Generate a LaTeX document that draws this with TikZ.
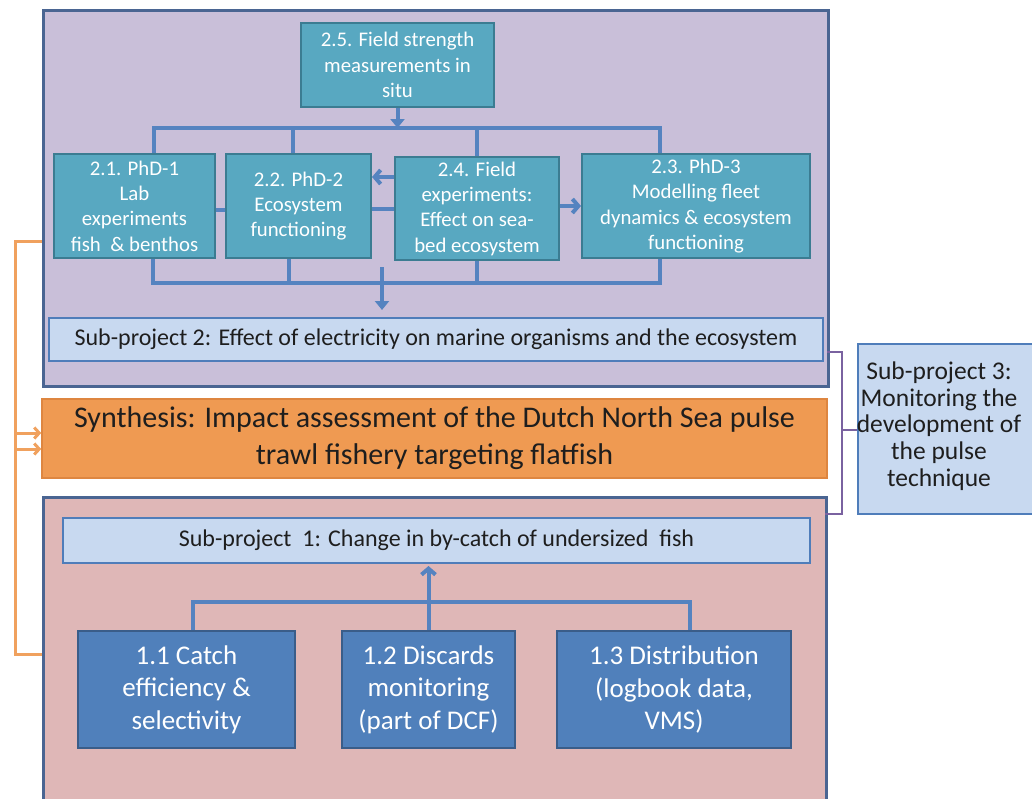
\documentclass[tikz,border=0pt]{standalone}
\usepackage{fontspec}
\setmainfont{Carlito}
\usetikzlibrary{arrows.meta}
\definecolor{purplefill}{HTML}{C9BFD9}
\definecolor{pinkfill}{HTML}{DFB7B7}
\definecolor{arealine}{HTML}{4A6592}
\definecolor{tealfill}{HTML}{58A8C1}
\definecolor{tealline}{HTML}{3B7C92}
\definecolor{bluefill}{HTML}{5080BB}
\definecolor{blueline}{HTML}{3A5D89}
\definecolor{lightfill}{HTML}{C8D9F0}
\definecolor{lightline}{HTML}{4F7DBA}
\definecolor{connblue}{HTML}{5583C0}
\definecolor{orangefill}{HTML}{EF9A52}
\definecolor{orangeline}{HTML}{DE8640}
\definecolor{orangeconn}{HTML}{F0A15E}
\definecolor{purpleconn}{HTML}{7A62A0}
\definecolor{textdark}{HTML}{1E1E1E}
\begin{document}
\begin{tikzpicture}[x=1pt,y=-1pt,
  areabox/.style={draw=arealine, line width=2.5pt, inner sep=0pt, anchor=north west},
  tealbox/.style={draw=tealline, line width=2pt, fill=tealfill, text=white, align=center, inner sep=0pt, font=\fontsize{20.8}{25.3}\selectfont},
  bluebox/.style={draw=blueline, line width=2pt, fill=bluefill, text=white, align=center, inner sep=0pt, font=\fontsize{27}{32.5}\selectfont},
  lightbox/.style={draw=lightline, line width=2pt, fill=lightfill, text=textdark, align=center, inner sep=0pt, font=\fontsize{24}{28}\selectfont},
  conn/.style={draw=connblue, line width=4pt},
  chev/.style={-{Straight Barb[length=6pt,width=14pt]}},
  tri/.style={-{Triangle[length=9pt,width=14pt]}},
  oconn/.style={draw=orangeconn, line width=3pt},
  pconn/.style={draw=purpleconn, line width=2.5pt}
]
\useasboundingbox (0,0) rectangle (1032,798);
\clip (0,0) rectangle (1032,798);

% areas
\node[areabox, fill=purplefill, minimum width=785pt, minimum height=376pt] (area2) at (42,9) {};
\node[areabox, fill=pinkfill, minimum width=783pt, minimum height=320pt] (area1) at (42,496) {};

% sub-project 2 boxes
\node[tealbox, minimum width=193pt, minimum height=84pt] (n25) at (397.5,65) {2.5. Field strength\\measurements in\\situ};
\node[tealbox, minimum width=161pt, minimum height=104pt] (n21) at (134.5,206) {2.1. PhD-1\\Lab\\experiments\\fish\ \ \& benthos};
\node[tealbox, minimum width=145pt, minimum height=104pt] (n22) at (298.5,206) {2.2. PhD-2\\Ecosystem\\functioning};
\node[tealbox, minimum width=164pt, minimum height=103pt] (n24) at (477,208.5) {2.4. Field\\experiments:\\Effect on sea-\\bed ecosystem};
\node[tealbox, minimum width=228pt, minimum height=104pt] (n23) at (696,206) {2.3. PhD-3\\Modelling fleet\\dynamics \& ecosystem\\functioning};
\node[lightbox, minimum width=774pt, minimum height=43pt] (sp2) at (436,339.5) {Sub-project 2: Effect of electricity on marine organisms and the ecosystem};

% synthesis
\node[draw=orangeline, line width=1.5pt, fill=orangefill, text=textdark, align=center, inner sep=0pt,
      minimum width=785pt, minimum height=79pt, font=\fontsize{30}{37}\selectfont] (syn) at (434.5,438.5)
      {Synthesis: Impact assessment of the Dutch North Sea pulse\\trawl fishery targeting flatfish};

% sub-project 1 boxes
\node[lightbox, minimum width=747pt, minimum height=45pt] (sp1) at (436.5,540.5) {Sub-project\ \ 1: Change in by-catch of undersized\ \ fish};
\node[bluebox, minimum width=217pt, minimum height=117pt] (n11) at (186.5,689.5) {1.1 Catch\\efficiency \&\\selectivity};
\node[bluebox, minimum width=173pt, minimum height=117pt] (n12) at (428.5,689.5) {1.2 Discards\\monitoring\\(part of DCF)};
\node[bluebox, minimum width=234pt, minimum height=117pt] (n13) at (674,689.5) {1.3 Distribution\\(logbook data,\\VMS)};

% sub-project 3
\node[draw=lightline, line width=2pt, fill=lightfill, inner sep=0pt, anchor=north west,
      minimum width=200pt, minimum height=170pt] (sp3box) at (857,343) {};
\node[text=textdark, align=center, inner sep=0pt, font=\fontsize{25.5}{26.8}\selectfont] (sp3) at (939,426)
      {Sub-project 3:\\Monitoring the\\development of\\the pulse\\technique};

% top bus
\coordinate (tb1) at (154,128);
\coordinate (tb2) at (293,128);
\coordinate (tb3) at (477,128);
\coordinate (tb4) at (660,128);
\draw[conn] (n21.north -| tb1) -- (tb1) -- (tb4) -- (n23.north -| tb4);
\draw[conn] (tb2) -- (n22.north -| tb2);
\draw[conn] (tb3) -- (n24.north -| tb3);
\draw[conn, tri] (n25.south) -- (n25.south |- tb1);

% side links
\draw[conn] ([yshift=-4pt]n21.east) -- ([yshift=-4pt]n22.west);
\coordinate (a24) at ([yshift=31.5pt]n24.west);
\draw[conn, chev] (a24) -- (a24 -| n22.east);
\draw[conn] (n24.west) -- (n24.west -| n22.east);
\draw[conn, chev] (n23.west -| n24.east) -- (n23.west);

% bottom bus of sub-project 2
\coordinate (bb1) at (153,283);
\coordinate (bb2) at (289,283);
\coordinate (bb3) at (477,283);
\coordinate (bb4) at (660,283);
\draw[conn] (n21.south -| bb1) -- (bb1) -- (bb4) -- (n23.south -| bb4);
\draw[conn] (n22.south -| bb2) -- (bb2);
\draw[conn] (n24.south -| bb3) -- (bb3);
\coordinate (dtop) at (382,267);
\coordinate (dend) at ([yshift=7pt]sp2.north);
\draw[conn, tri] (dtop) -- (dtop |- dend);

% sub-project 1 bus
\coordinate (lb1) at (193,602);
\coordinate (lb3) at (690,602);
\draw[conn] (n11.north -| lb1) -- (lb1) -- (lb3) -- (n13.north -| lb3);
\coordinate (uend) at ([yshift=-2pt]sp1.south);
\draw[conn, chev] (n12.north) -- (n12.north |- uend);

% orange bracket
\coordinate (ot) at (42,241);
\coordinate (ob) at (42,654);
\coordinate (ol) at (15,241);
\draw[oconn] (ot) -- (ol) -- (ol |- ob) -- (ob);
\coordinate (oa1) at (15,433);
\coordinate (oa2) at (15,449);
\draw[oconn, -{Straight Barb[length=5pt,width=11pt]}] (oa1) -- (oa1 -| syn.west);
\draw[oconn, -{Straight Barb[length=5pt,width=11pt]}] (oa2) -- (oa2 -| syn.west);

% purple bracket
\coordinate (pt) at (827,352);
\coordinate (pb) at (825,514);
\coordinate (pv) at (842,352);
\coordinate (pm) at (842,430);
\draw[pconn] (pt) -- (pv) -- (pv |- pb) -- (pb);
\draw[pconn] (pm) -- (pm -| sp3box.west);
\end{tikzpicture}
\end{document}
